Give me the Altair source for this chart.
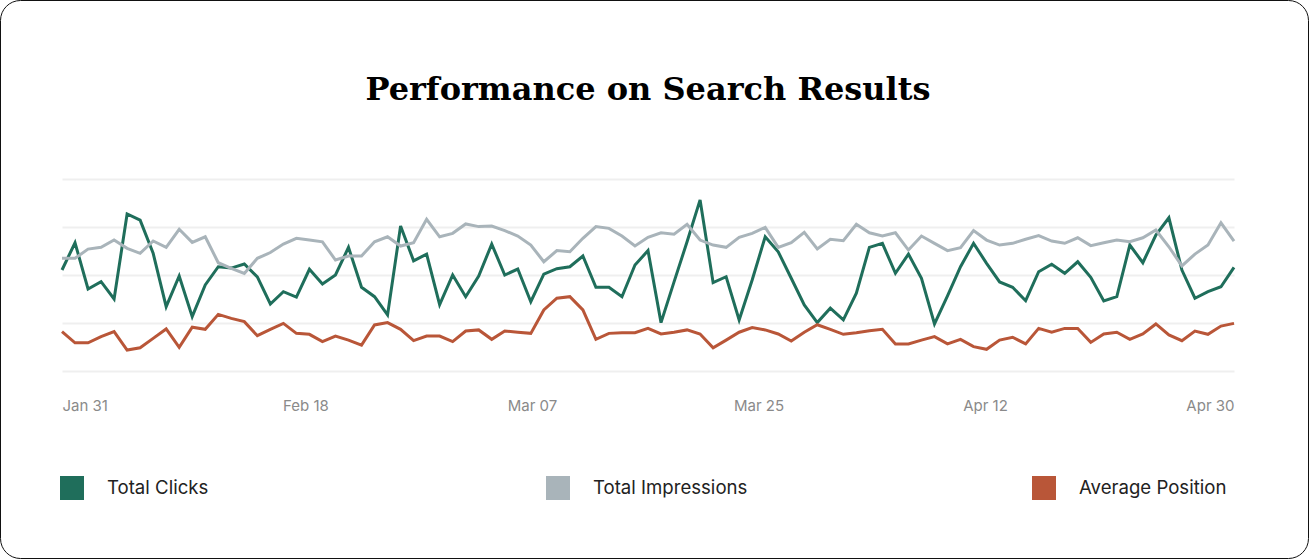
import altair as alt
import pandas as pd

# ---- data ----
start_date = "2024-01-31"
n_days = 91

series_names = ["Total Clicks", "Total Impressions", "Average Position"]
series_colors = ["#1F6E5B", "#A9B4BA", "#B95638"]

total_clicks = [
    52.6, 66.8, 42.7, 46.5, 37.5, 81.8, 78.6, 61.3, 33.5, 49.5,
    28.3, 44.8, 54.3, 53.6, 55.7, 49.0, 34.9, 41.3, 38.5, 53.0,
    45.3, 50.0, 64.4, 43.6, 38.7, 29.2, 75.5, 57.4, 60.9, 34.6,
    50.0, 38.7, 49.5, 66.1, 50.0, 53.1, 36.1, 50.5, 53.3, 54.3,
    59.9, 43.6, 43.6, 38.7, 55.2, 62.7, 25.2, 46.4, 67.3, 89.1,
    46.0, 49.1, 26.6, 47.4, 69.9, 62.1, 48.3, 34.4, 25.2, 32.7,
    26.6, 40.5, 64.4, 66.5, 50.9, 60.9, 48.3, 24.5, 39.1, 54.3,
    66.5, 56.1, 46.4, 43.6, 36.6, 51.7, 55.6, 50.9, 56.9, 48.8,
    36.5, 38.7, 65.6, 56.4, 70.8, 79.8, 52.6, 37.9, 41.3, 43.9,
    54.0,
]

total_impressions = [
    58.7, 58.7, 63.5, 64.4, 68.2, 63.9, 61.3, 67.7, 64.4, 73.8,
    67.0, 69.9, 56.4, 53.5, 50.8, 58.7, 61.7, 66.1, 69.1, 68.2,
    67.3, 57.8, 59.9, 59.9, 67.3, 69.9, 65.1, 66.8, 79.0, 69.9,
    71.7, 76.6, 75.2, 75.5, 73.1, 70.3, 65.6, 56.9, 62.7, 62.1,
    69.1, 75.2, 74.3, 70.3, 65.1, 69.6, 72.0, 71.2, 76.4, 68.2,
    65.6, 64.4, 69.6, 71.7, 74.8, 64.4, 66.8, 72.2, 63.6, 68.6,
    67.9, 76.4, 72.0, 70.3, 72.0, 63.0, 70.3, 66.5, 62.7, 64.2,
    73.1, 68.2, 65.6, 66.5, 68.6, 70.5, 67.7, 66.5, 69.4, 65.3,
    66.8, 68.2, 67.3, 69.4, 73.4, 64.7, 54.7, 60.9, 65.6, 77.2,
    67.7,
]

average_position = [
    20.5, 14.7, 14.7, 17.9, 20.5, 10.9, 12.1, 17.0, 21.9, 12.3,
    22.8, 21.7, 29.5, 27.4, 25.7, 18.4, 21.7, 24.8, 19.6, 19.1,
    15.3, 18.2, 16.1, 13.5, 24.0, 25.2, 21.7, 15.8, 18.2, 18.2,
    15.3, 20.8, 21.4, 16.5, 20.8, 20.2, 19.6, 31.8, 37.9, 38.7,
    31.8, 16.5, 19.6, 19.9, 19.9, 22.2, 19.3, 20.2, 21.4, 19.3,
    12.1, 16.1, 20.2, 22.6, 21.4, 19.3, 15.6, 20.2, 24.1, 21.7,
    19.1, 19.9, 21.0, 21.7, 14.1, 14.1, 16.1, 17.9, 14.1, 16.5,
    12.7, 11.3, 16.1, 17.6, 14.1, 22.2, 20.2, 22.2, 22.2, 14.9,
    19.3, 20.2, 16.5, 19.3, 24.5, 18.8, 15.8, 20.8, 19.1, 23.4,
    24.8,
]

tick_dates = [(2024, 1, 31), (2024, 2, 18), (2024, 3, 7),
              (2024, 3, 25), (2024, 4, 12), (2024, 4, 30)]
grid_values = [0, 25, 50, 75, 100]

# ---- tables ----
dates = pd.date_range(start_date, periods=n_days, freq="D").strftime("%Y-%m-%dT00:00:00")
rows = []
for name, vals in zip(series_names, [total_clicks, total_impressions, average_position]):
    for d, v in zip(dates, vals):
        rows.append({"date": d, "series": name, "value": v})
df = pd.DataFrame(rows)
legend_df = pd.DataFrame({"key": series_names})

W, H = 1172, 192
PAD_L, PAD_T = 62, 179
TOTAL_W, TOTAL_H = 1309, 560
LEGEND_Y = 309          # centre line of the legend row, relative to plot top
UI_FONT = "Inter"

x_enc = alt.X(
    "date:T",
    scale=alt.Scale(nice=False, padding=0),
    axis=alt.Axis(
        title=None,
        values=[alt.DateTime(year=y, month=m, date=d) for (y, m, d) in tick_dates],
        format="%b %d",
        domain=False,
        ticks=False,
        grid=False,
        labelFlush=True,
        labelOffset=alt.ExprRef("datum.index > 0 && datum.index < 1 ? 17 - 39.5 * datum.index : 0"),
        labelFont=UI_FONT,
        labelFontSize=15,
        labelColor="#8A8A8A",
        labelPadding=27,
    ),
)
y_enc = alt.Y(
    "value:Q",
    scale=alt.Scale(domain=[0, 100], nice=False),
    axis=alt.Axis(
        title=None,
        values=grid_values,
        labels=False,
        ticks=False,
        domain=False,
        grid=True,
        gridColor="#EFEFEF",
        gridWidth=2,
    ),
)

lines = alt.Chart(df).mark_line(strokeWidth=3, strokeJoin="miter").encode(
    x=x_enc,
    y=y_enc,
    stroke=alt.Stroke(
        "series:N",
        scale=alt.Scale(domain=series_names, range=series_colors),
        legend=None,
    ),
    detail="series:N",
)

# legend drawn as marks: three evenly spread entries
legend_x = alt.X(
    "key:N",
    scale=alt.Scale(type="point", domain=series_names, range=[10, 982], padding=0),
    axis=None,
)
legend_squares = alt.Chart(legend_df).mark_square(size=576, opacity=1).encode(
    x=legend_x,
    y=alt.value(LEGEND_Y),
    fill=alt.Fill(
        "key:N",
        scale=alt.Scale(domain=series_names, range=series_colors),
        legend=None,
    ),
)
legend_labels = alt.Chart(legend_df).mark_text(
    align="left", baseline="middle", dx=35, font=UI_FONT, fontSize=18.6, color="#222222"
).encode(
    x=legend_x,
    y=alt.value(LEGEND_Y),
    text="key:N",
)
legend = alt.layer(legend_squares, legend_labels)

frame = alt.Chart(pd.DataFrame({"k": [0]})).mark_rect(
    fill="transparent", stroke="#111111", strokeWidth=1, cornerRadius=20
).encode(
    x=alt.value(-PAD_L + 0.5),
    x2=alt.value(TOTAL_W - PAD_L - 0.5),
    y=alt.value(-PAD_T + 0.5),
    y2=alt.value(TOTAL_H - PAD_T - 1.5),
)

chart = alt.layer(frame, lines, legend).resolve_scale(x="independent").properties(
    width=W,
    height=H,
    title=alt.TitleParams(
        "Performance on Search Results",
        font="DejaVu Serif",
        fontSize=32,
        fontWeight="bold",
        color="#000000",
        anchor="middle",
        frame="group",
        baseline="alphabetic",
        offset=-132,
    ),
    autosize=alt.AutoSizeParams(type="none"),
    padding={"left": PAD_L, "top": PAD_T, "right": TOTAL_W - PAD_L - W, "bottom": TOTAL_H - PAD_T - H},
    background="white",
).configure_view(stroke=None)

chart.save("out.html", embed_options={"renderer": "svg", "actions": False})
